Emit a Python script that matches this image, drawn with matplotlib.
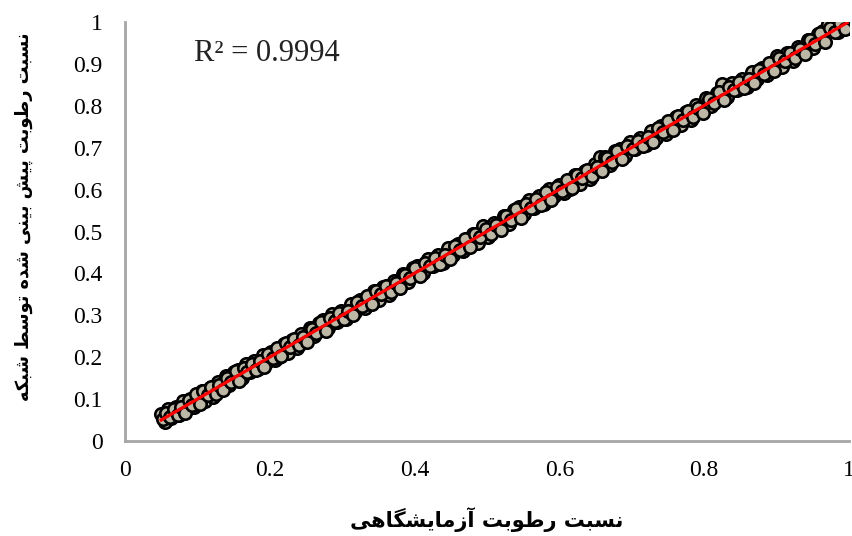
import numpy as np
from matplotlib import pyplot as plt

# measured (lab) moisture ratio vs network-predicted moisture ratio
mr_exp = [0.050, 0.055, 0.060, 0.064, 0.070, 0.075, 0.080, 0.086, 0.090, 0.095,
          0.100, 0.106, 0.111, 0.117, 0.122, 0.128, 0.133, 0.139, 0.144, 0.150,
          0.156, 0.161, 0.167, 0.172, 0.178, 0.184, 0.190, 0.195, 0.201, 0.207,
          0.213, 0.219, 0.225, 0.231, 0.237, 0.243, 0.249, 0.255, 0.261, 0.268,
          0.274, 0.280, 0.286, 0.293, 0.299, 0.305, 0.312, 0.318, 0.325, 0.331,
          0.338, 0.344, 0.351, 0.357, 0.364, 0.371, 0.377, 0.384, 0.391, 0.398,
          0.404, 0.411, 0.418, 0.425, 0.432, 0.439, 0.446, 0.453, 0.460, 0.467,
          0.474, 0.481, 0.488, 0.495, 0.502, 0.509, 0.516, 0.523, 0.530, 0.537,
          0.544, 0.551, 0.558, 0.565, 0.572, 0.579, 0.586, 0.593, 0.600, 0.607,
          0.614, 0.621, 0.628, 0.635, 0.642, 0.649, 0.656, 0.663, 0.670, 0.677,
          0.684, 0.691, 0.698, 0.705, 0.712, 0.719, 0.726, 0.733, 0.740, 0.747,
          0.754, 0.761, 0.768, 0.775, 0.782, 0.789, 0.796, 0.803, 0.810, 0.817,
          0.824, 0.831, 0.838, 0.845, 0.852, 0.859, 0.866, 0.873, 0.880, 0.887,
          0.894, 0.901, 0.908, 0.915, 0.922, 0.929, 0.936, 0.943, 0.950, 0.957,
          0.964, 0.971, 0.978, 0.985, 0.992, 0.998,
          0.053, 0.057, 0.062, 0.067, 0.073, 0.078, 0.083, 0.088, 0.093, 0.098,
          0.103, 0.108, 0.114, 0.119, 0.125, 0.130, 0.136, 0.141, 0.147, 0.153,
          0.158, 0.164, 0.169, 0.175, 0.181, 0.187, 0.192, 0.198, 0.204, 0.210,
          0.216, 0.222, 0.228, 0.234, 0.240, 0.246, 0.252, 0.258, 0.264, 0.271,
          0.277, 0.283, 0.290, 0.296, 0.302, 0.308, 0.315, 0.321, 0.328, 0.334,
          0.341, 0.347, 0.354, 0.360, 0.367, 0.374, 0.380, 0.387, 0.394, 0.401,
          0.408, 0.414, 0.421, 0.428, 0.435, 0.442, 0.449, 0.456, 0.463, 0.470,
          0.477, 0.484, 0.491, 0.498, 0.505, 0.512, 0.519, 0.526, 0.533, 0.540,
          0.547, 0.554, 0.561, 0.568, 0.575, 0.582, 0.589, 0.596, 0.603, 0.610,
          0.617, 0.624, 0.631, 0.638, 0.645, 0.652, 0.659, 0.666, 0.673, 0.680,
          0.687, 0.694, 0.701, 0.708, 0.715, 0.722, 0.729, 0.736, 0.743, 0.750,
          0.757, 0.764, 0.771, 0.778, 0.785, 0.792, 0.799, 0.806, 0.813, 0.820,
          0.827, 0.834, 0.841, 0.848, 0.855, 0.862, 0.869, 0.876, 0.883, 0.890,
          0.897, 0.904, 0.911, 0.918, 0.925, 0.932, 0.939, 0.946, 0.953, 0.960,
          0.967, 0.974, 0.981, 0.988, 0.995]
mr_pred = [0.064, 0.045, 0.076, 0.056, 0.082, 0.062, 0.095, 0.077, 0.101, 0.081,
           0.088, 0.119, 0.096, 0.127, 0.106, 0.140, 0.124, 0.154, 0.133, 0.164,
           0.170, 0.151, 0.183, 0.164, 0.190, 0.171, 0.205, 0.186, 0.212, 0.193,
           0.201, 0.232, 0.210, 0.241, 0.221, 0.255, 0.240, 0.270, 0.250, 0.282,
           0.288, 0.270, 0.302, 0.285, 0.311, 0.292, 0.327, 0.309, 0.336, 0.317,
           0.326, 0.357, 0.336, 0.367, 0.348, 0.383, 0.368, 0.399, 0.380, 0.412,
           0.418, 0.401, 0.434, 0.417, 0.444, 0.426, 0.461, 0.444, 0.471, 0.453,
           0.462, 0.494, 0.473, 0.514, 0.486, 0.521, 0.507, 0.538, 0.519, 0.551,
           0.558, 0.541, 0.574, 0.557, 0.584, 0.566, 0.601, 0.584, 0.611, 0.593,
           0.602, 0.634, 0.613, 0.645, 0.626, 0.661, 0.677, 0.678, 0.659, 0.691,
           0.698, 0.681, 0.714, 0.697, 0.724, 0.706, 0.741, 0.724, 0.751, 0.733,
           0.742, 0.774, 0.753, 0.785, 0.766, 0.801, 0.787, 0.818, 0.799, 0.831,
           0.852, 0.821, 0.854, 0.837, 0.864, 0.846, 0.881, 0.864, 0.891, 0.873,
           0.882, 0.918, 0.893, 0.925, 0.906, 0.941, 0.927, 0.958, 0.939, 0.971,
           0.978, 0.996, 0.994, 0.977, 0.997, 0.985,
           0.052, 0.068, 0.058, 0.076, 0.061, 0.081, 0.068, 0.098, 0.087, 0.111,
           0.089, 0.119, 0.110, 0.128, 0.113, 0.133, 0.121, 0.151, 0.141, 0.166,
           0.144, 0.175, 0.165, 0.184, 0.169, 0.190, 0.177, 0.208, 0.198, 0.223,
           0.202, 0.233, 0.224, 0.243, 0.228, 0.249, 0.237, 0.268, 0.258, 0.284,
           0.263, 0.294, 0.286, 0.305, 0.290, 0.311, 0.300, 0.331, 0.322, 0.347,
           0.327, 0.358, 0.350, 0.369, 0.355, 0.377, 0.365, 0.397, 0.388, 0.414,
           0.394, 0.425, 0.417, 0.437, 0.423, 0.445, 0.434, 0.466, 0.457, 0.483,
           0.463, 0.495, 0.487, 0.507, 0.493, 0.515, 0.504, 0.536, 0.527, 0.553,
           0.533, 0.565, 0.557, 0.577, 0.563, 0.595, 0.574, 0.606, 0.597, 0.623,
           0.603, 0.635, 0.627, 0.647, 0.633, 0.655, 0.644, 0.676, 0.667, 0.693,
           0.673, 0.705, 0.697, 0.717, 0.703, 0.725, 0.714, 0.746, 0.737, 0.763,
           0.743, 0.775, 0.767, 0.787, 0.773, 0.795, 0.784, 0.816, 0.807, 0.833,
           0.813, 0.845, 0.837, 0.857, 0.843, 0.865, 0.854, 0.886, 0.877, 0.903,
           0.883, 0.915, 0.907, 0.927, 0.913, 0.935, 0.924, 0.956, 0.947, 0.973,
           0.953, 0.985, 0.977, 0.997, 0.983]
r2_text = 'R² = 0.9994'
xlabel = 'نسبت رطوبت آزمایشگاهی'
ylabel = 'نسبت رطوبت پیش بینی شده توسط شبکه'

# minimal arabic/persian shaping (matplotlib has no complex text layout)
# char: (isolated, final, initial, medial)
FORMS = {
    'ا': ('\uFE8D', '\uFE8E', None, None),
    'آ': ('\uFE81', '\uFE82', None, None),
    'د': ('\uFEA9', '\uFEAA', None, None),
    'ر': ('\uFEAD', '\uFEAE', None, None),
    'ز': ('\uFEAF', '\uFEB0', None, None),
    'و': ('\uFEED', '\uFEEE', None, None),
    'ب': ('\uFE8F', '\uFE90', '\uFE91', '\uFE92'),
    'ت': ('\uFE95', '\uFE96', '\uFE97', '\uFE98'),
    'س': ('\uFEB1', '\uFEB2', '\uFEB3', '\uFEB4'),
    'ش': ('\uFEB5', '\uFEB6', '\uFEB7', '\uFEB8'),
    'ط': ('\uFEC1', '\uFEC2', '\uFEC3', '\uFEC4'),
    'م': ('\uFEE1', '\uFEE2', '\uFEE3', '\uFEE4'),
    'ن': ('\uFEE5', '\uFEE6', '\uFEE7', '\uFEE8'),
    'ه': ('\uFEE9', '\uFEEA', '\uFEEB', '\uFEEC'),
    'پ': ('\uFB56', '\uFB57', '\uFB58', '\uFB59'),
    'ک': ('\uFB8E', '\uFB8F', '\uFB90', '\uFB91'),
    'گ': ('\uFB92', '\uFB93', '\uFB94', '\uFB95'),
    'ی': ('\uFBFC', '\uFBFD', '\uFBFE', '\uFBFF'),
}


def shape(s):
    out = []
    for i, c in enumerate(s):
        if c not in FORMS:
            out.append(c)
            continue
        prev = s[i - 1] if i > 0 else ' '
        nxt = s[i + 1] if i < len(s) - 1 else ' '
        iso, fin, ini, med = FORMS[c]
        join_prev = prev in FORMS and FORMS[prev][2] is not None
        join_next = ini is not None and nxt in FORMS
        if join_prev and join_next:
            out.append(med)
        elif join_prev:
            out.append(fin)
        elif join_next:
            out.append(ini)
        else:
            out.append(iso)
    return ''.join(out)[::-1]


plt.rcParams['font.family'] = ['Liberation Serif', 'DejaVu Serif']

fig = plt.figure(figsize=(8.52, 5.36), dpi=100)
ax = fig.add_axes([125 / 852, 1 - 441 / 536, 724 / 852, 419 / 536])

x = np.array(mr_exp)
y = np.array(mr_pred)
ax.scatter(x, y, s=80, facecolor='#bdb7a5', edgecolor='black', linewidth=1.9, zorder=2)
a, b = np.polyfit(x, y, 1)
xl = np.array([x.min(), x.max()])
ax.plot(xl, a * xl + b, color='#ff0000', lw=2.3, zorder=3)

ax.set_xlim(0, 1)
ax.set_ylim(0, 1)
ax.set_xticks([0, 0.2, 0.4, 0.6, 0.8, 1])
ax.set_xticklabels(['0', '0.2', '0.4', '0.6', '0.8', '1'])
ax.set_yticks(np.arange(0, 1.01, 0.1))
ax.set_yticklabels(['0', '0.1', '0.2', '0.3', '0.4', '0.5', '0.6', '0.7', '0.8', '0.9', '1'])
ax.tick_params(length=0, labelsize=17, pad=14)
ax.tick_params(axis='y', pad=16)
for side in ['top', 'right']:
    ax.spines[side].set_visible(False)
for side in ['left', 'bottom']:
    ax.spines[side].set_color('#a6a6a6')
    ax.spines[side].set_linewidth(2)

ax.text(0.095, 0.925, r2_text, fontsize=22, color='#222222', transform=ax.transAxes, va='center')

fig.text(487 / 852, 1 - 520 / 536, shape(xlabel), family='DejaVu Sans', weight='bold',
         fontsize=15, ha='center', va='center')
fig.text(24 / 852, 1 - 217 / 536, shape(ylabel), family='DejaVu Sans', weight='bold',
         fontsize=12.8, ha='center', va='center', rotation=90)

fig.savefig('out.png', dpi=100)
